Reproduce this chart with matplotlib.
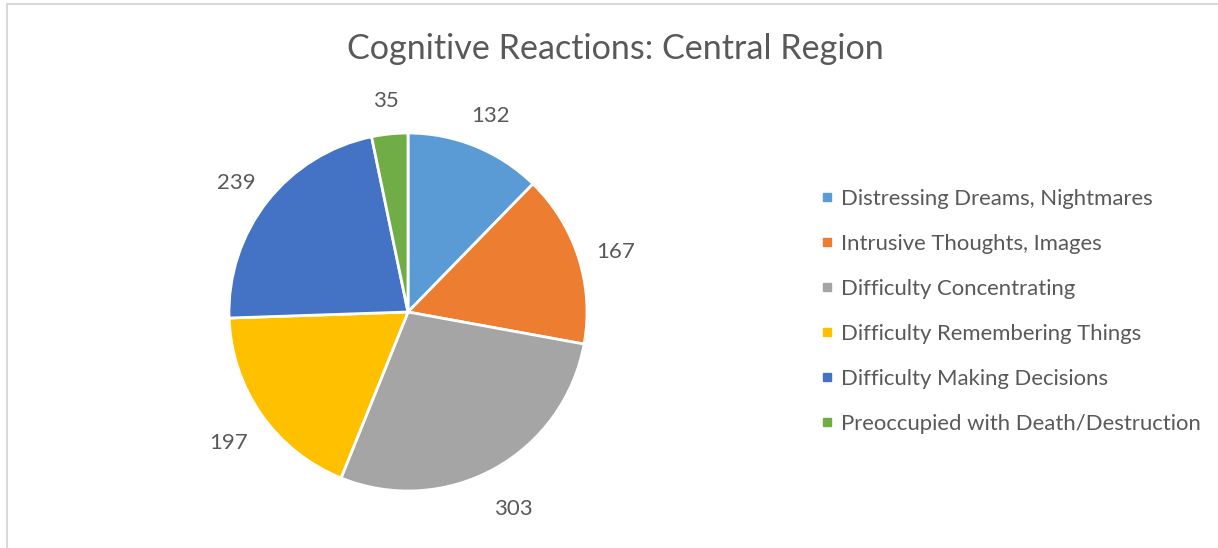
import matplotlib
matplotlib.use("Agg")
import matplotlib.pyplot as plt
import matplotlib.transforms as mtransforms
from matplotlib.lines import Line2D
from matplotlib.patches import Rectangle
import numpy as np

categories = ["Distressing Dreams, Nightmares", "Intrusive Thoughts, Images",
              "Difficulty Concentrating", "Difficulty Remembering Things",
              "Difficulty Making Decisions", "Preoccupied with Death/Destruction"]
values = [132, 167, 303, 197, 239, 35]
colors = ["#5B9BD5", "#ED7D31", "#A5A5A5", "#FFC000", "#4472C4", "#70AD47"]
title = "Cognitive Reactions: Central Region"

TXT = "#595959"
plt.rcParams['font.family'] = ['Lato', 'DejaVu Sans']

W, H = 1218, 548
fig = plt.figure(figsize=(W/100, H/100), dpi=100)

# chart border
fig.patches.append(Rectangle((6.5/W, -0.05), 1.2, 1.05 - 3.5/H, transform=fig.transFigure,
                             fill=False, edgecolor="#D9D9D9", lw=1.5))

cx, cy, r = 408, H-312, 179
ax = fig.add_axes([(cx-r)/W, (cy-r)/H, 2*r/W, 2*r/H])
wedges, texts = ax.pie(values, labels=[str(v) for v in values], colors=colors,
                       startangle=90, counterclock=False, radius=1,
                       labeldistance=1.22,
                       wedgeprops=dict(edgecolor="white", linewidth=2),
                       textprops=dict(color=TXT, fontsize=16))
shift = mtransforms.ScaledTranslation(0, -6/100, fig.dpi_scale_trans)
for t in texts:
    t.set_ha('center'); t.set_va('center')
    t.set_transform(t.get_transform() + shift)
ax.set_xlim(-1, 1); ax.set_ylim(-1, 1)

fig.text(615/W, 1-49/H, title, ha='center', va='center', fontsize=24.6, color=TXT)

handles = [Line2D([], [], marker='s', linestyle='none', markersize=6,
                  markerfacecolor=c, markeredgecolor=c) for c in colors]
leg = fig.legend(handles, categories, loc='upper left', bbox_to_anchor=(820/W, 1-189/H),
                 frameon=False, fontsize=15.9, labelcolor=TXT, handlelength=0.6,
                 handletextpad=0.36, labelspacing=1.13, borderpad=0, borderaxespad=0)

fig.savefig("out.png", dpi=100)
